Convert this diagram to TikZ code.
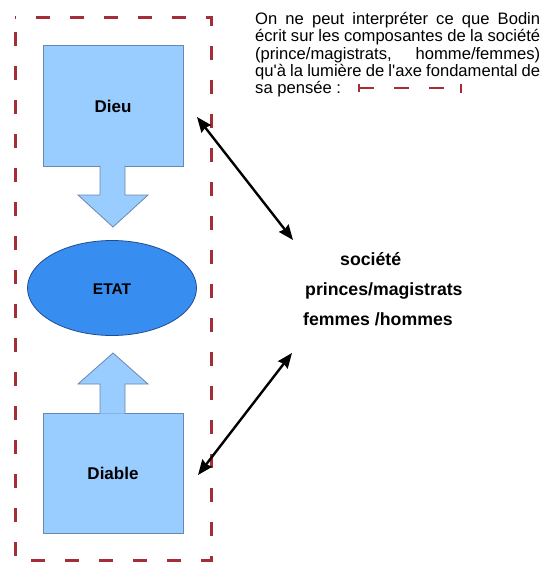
\documentclass[tikz,border=0pt]{standalone}
\usepackage{fontspec}
\setmainfont{Liberation Sans}
\usetikzlibrary{shapes.geometric,arrows.meta}

\definecolor{boxblue}{RGB}{153,204,255}
\definecolor{boxline}{RGB}{105,135,175}
\definecolor{etatblue}{RGB}{55,142,240}
\definecolor{etatline}{RGB}{35,75,145}
\definecolor{frameRed}{RGB}{165,45,55}

\begin{document}
\begin{tikzpicture}[x=1pt, y=-1pt,
    bigbox/.style={draw=boxline, fill=boxblue, line width=0.8pt, minimum width=140pt, inner sep=0pt},
    bigarrow/.style={draw=boxline, fill=boxblue, line width=0.8pt, line join=miter},
    frame/.style={draw=frameRed, line width=3pt, dash pattern=on 14pt off 20pt},
    label/.style={font=\bfseries\fontsize{17}{20}\selectfont, inner sep=0pt},
    side/.style={label, font=\bfseries\fontsize{17.7}{20}\selectfont},
    link/.style={line width=2.4pt, <->, >={Stealth[length=15pt,width=12pt,inset=1.5pt]}}]
    \useasboundingbox (0,0) rectangle (547,563);

    \draw[frame, dash phase=19pt] (15,17) rectangle (211,560);

    \node[bigbox, minimum height=121pt] (dieu) at (113,105.5) {};
    \node[label] at (113,106) {Dieu};
    \filldraw[bigarrow] (100,165.5) -- (100,195) -- (78,195) -- (113,227) -- (148,195) -- (125,195) -- (125,165.5);

    \node[ellipse, draw=etatline, fill=etatblue, line width=0.8pt, minimum width=169pt, minimum height=95pt] (etat) at (112,288) {};
    \node[label, font=\bfseries\fontsize{15.5}{18}\selectfont] at (112,289) {ETAT};

    \node[bigbox, minimum height=120pt] (diable) at (113,473) {};
    \node[label] at (113,473) {Diable};
    \filldraw[bigarrow] (100,413.5) -- (100,384) -- (78,384) -- (113,353) -- (148,384) -- (125,384) -- (125,413.5);

    \node[side, anchor=base west] (societe) at (340,265) {société};
    \node[side, anchor=base west] (princes) at (305,295) {princes/magistrats};
    \node[side, anchor=base west] (femmes) at (303,325) {femmes /hommes};

    \coordinate (dieuEnd) at (197,117);
    \coordinate (socTop) at (293,240);
    \coordinate (socBot) at (292,353);
    \coordinate (diableEnd) at (198,475);
    \draw[link] (dieuEnd) -- (socTop);
    \draw[link] (socBot) -- (diableEnd);

    \node[anchor=north west, inner sep=0pt, text width=285pt, align=justify,
          font=\fontsize{16.6}{17.3}\selectfont] (note) at (255,12)
        {On ne peut interpréter ce que Bodin\linebreak
         écrit sur les composantes de la société\linebreak
         (prince/magistrats, homme/femmes)\linebreak
         qu\textquotesingle à la lumière de l\textquotesingle axe fondamental de\linebreak
         sa pensée :};

    \coordinate (keyA) at (358,88);
    \coordinate (keyB) at (462,88);
    \draw[draw=frameRed, line width=2.6pt, dash pattern=on 15pt off 20pt,
          {Bar[width=8pt,line width=1.6pt]}-{Bar[width=9pt,line width=1.6pt]}] (keyA) -- (keyB);
\end{tikzpicture}
\end{document}
